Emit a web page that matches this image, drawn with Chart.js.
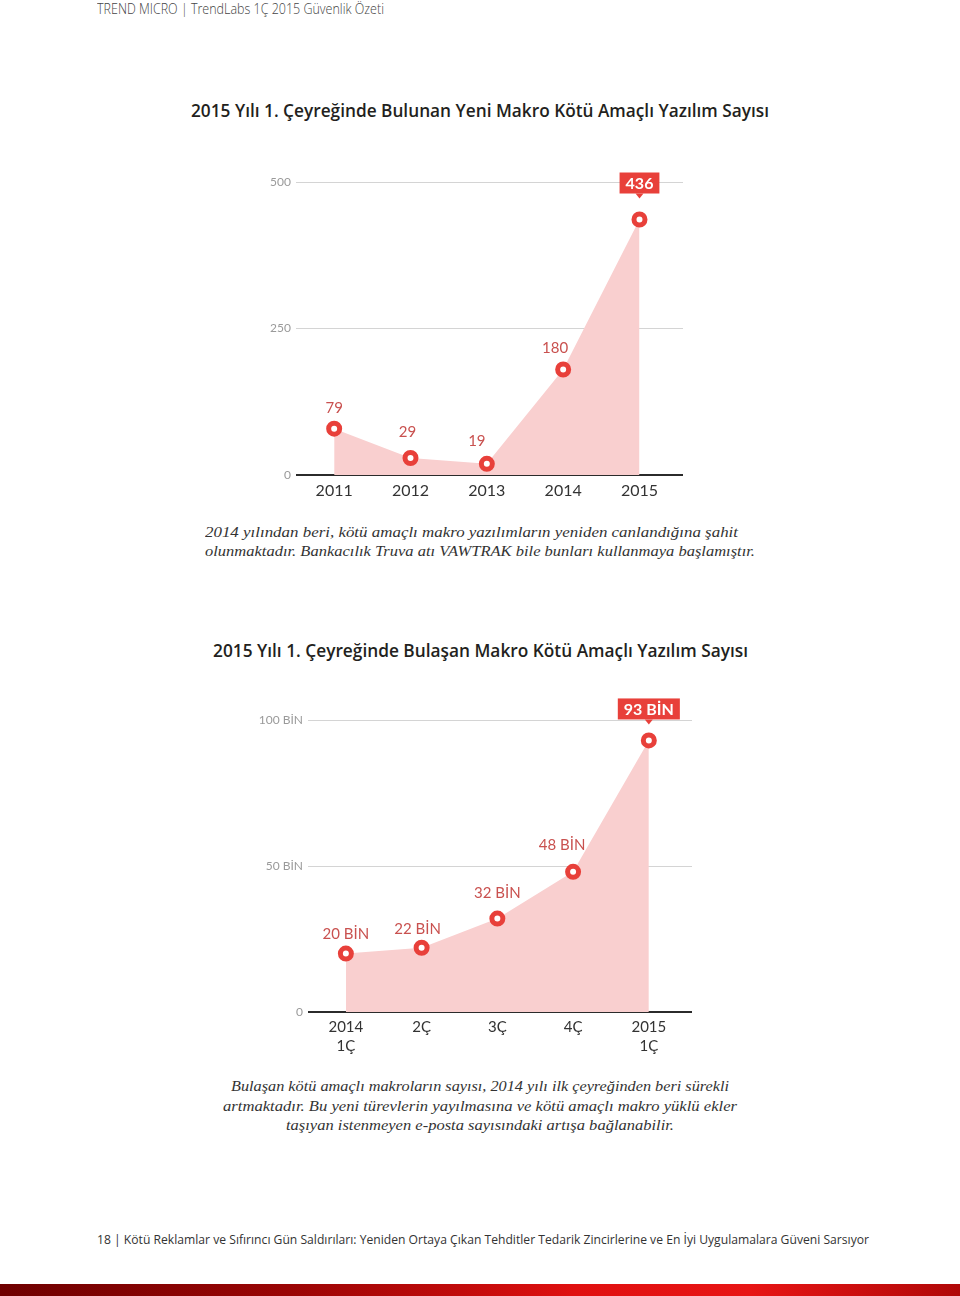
<!DOCTYPE html>
<html><head><meta charset="utf-8">
<script src="https://cdn.jsdelivr.net/npm/chart.js@4.4.1/dist/chart.umd.min.js"></script>
<style>
html,body{margin:0;padding:0;background:#fff;}
body{width:960px;height:1296px;position:relative;overflow:hidden;font-family:"Open Sans",sans-serif;}
.t{position:absolute;white-space:nowrap;line-height:1;transform-origin:0 50%;display:inline-block;}
.hdr{font-size:14px;font-weight:300;color:#444;}
.ttl{font-size:18px;font-weight:600;color:#231f20;}
.cap{font-family:"Liberation Serif",serif;font-style:italic;font-size:15px;color:#333;}
.ftr{font-size:13px;color:#333;}
.box{position:absolute;}
#bar{position:absolute;left:0;top:1284px;width:960px;height:12px;background:linear-gradient(90deg,#6e0000 0%,#9a0505 30%,#c10b0b 48%,#e01010 60%,#e81515 78%,#b00808 100%);}
</style></head><body>
<div class="t hdr" data-x="97" data-w="287" style="top:2px">TREND MICRO | TrendLabs 1Ç 2015 Güvenlik Özeti</div>
<div class="t ttl" data-x="191" data-w="578" style="top:101px">2015 Yılı 1. Çeyreğinde Bulunan Yeni Makro Kötü Amaçlı Yazılım Sayısı</div>
<div class="box" style="left:240px;top:160px;width:460px;height:360px"><canvas id="c1"></canvas></div>
<div class="t cap" data-x="205" data-w="533" style="top:525px">2014 yılından beri, kötü amaçlı makro yazılımların yeniden canlandığına şahit</div>
<div class="t cap" data-x="205" data-w="550" style="top:544px">olunmaktadır. Bankacılık Truva atı VAWTRAK bile bunları kullanmaya başlamıştır.</div>
<div class="t ttl" data-x="213" data-w="535" style="top:641px">2015 Yılı 1. Çeyreğinde Bulaşan Makro Kötü Amaçlı Yazılım Sayısı</div>
<div class="box" style="left:240px;top:690px;width:470px;height:380px"><canvas id="c2"></canvas></div>
<div class="t cap" data-x="231" data-w="498" style="top:1079px">Bulaşan kötü amaçlı makroların sayısı, 2014 yılı ilk çeyreğinden beri sürekli</div>
<div class="t cap" data-x="223" data-w="514" style="top:1099px">artmaktadır. Bu yeni türevlerin yayılmasına ve kötü amaçlı makro yüklü ekler</div>
<div class="t cap" data-x="286" data-w="388" style="top:1118px">taşıyan istenmeyen e-posta sayısındaki artışa bağlanabilir.</div>
<div class="t ftr" data-x="97" data-w="772" style="top:1233px">18 | Kötü Reklamlar ve Sıfırıncı Gün Saldırıları: Yeniden Ortaya Çıkan Tehditler Tedarik Zincirlerine ve En İyi Uygulamalara Güveni Sarsıyor</div>
<div id="bar"></div>
<script>
// ---- data ----
const years = ["2011", "2012", "2013", "2014", "2015"];
const newMacros = [79, 29, 19, 180, 436];
const yTicks1 = [0, 250, 500];

const quarters = [["2014", "1Ç"], ["2Ç"], ["3Ç"], ["4Ç"], ["2015", "1Ç"]];
const infections = [20, 22, 32, 48, 93];   // thousands (BİN)
const yTicks2 = [0, 50, 100];

// ---- text fitting ----
function fitTexts(){
  document.querySelectorAll('.t').forEach(el=>{
    el.style.left = el.dataset.x + 'px';
    el.style.transform = 'none';
    const w = el.getBoundingClientRect().width;
    const target = parseFloat(el.dataset.w);
    el.style.transform = 'scaleX(' + (target / w) + ')';
  });
}

const RED = '#e8403a';
const LABEL = '#c9514f';
const FILL = '#f9cfcf';

const labelPlugin = {
  id: 'valLabels',
  afterDatasetsDraw(chart, args, opts) {
    const ctx = chart.ctx;
    const meta = chart.getDatasetMeta(0);
    const data = chart.data.datasets[0].data;
    ctx.save();
    meta.data.forEach((pt, i) => {
      const txt = opts.format(data[i].y);
      const off = opts.offsets[i];
      if (i === data.length - 1) {
        ctx.font = 'bold 16px Lato, "Open Sans", sans-serif';
        const tw = ctx.measureText(txt).width;
        const bw = tw + 12, bh = 21;
        const cx = pt.x, bottom = pt.y - opts.boxGap;
        ctx.fillStyle = RED;
        ctx.fillRect(cx - bw / 2, bottom - bh, bw, bh);
        ctx.beginPath();
        ctx.moveTo(cx - 4, bottom); ctx.lineTo(cx + 4, bottom); ctx.lineTo(cx, bottom + 5); ctx.closePath();
        ctx.fill();
        ctx.fillStyle = '#fff';
        ctx.textAlign = 'center'; ctx.textBaseline = 'middle';
        ctx.fillText(txt, cx, bottom - bh / 2 + 1);
      } else {
        ctx.font = '15px Lato, "Open Sans", sans-serif';
        ctx.fillStyle = LABEL;
        ctx.textAlign = 'center'; ctx.textBaseline = 'middle';
        ctx.fillText(txt, pt.x + off[0], pt.y + off[1]);
      }
    });
    ctx.restore();
  }
};

function makeChart(id, labels, values, yTicks, yFmt, valFmt, offsets, boxGap, pad, yW, xH, xFont, xPad) {
  return new Chart(document.getElementById(id), {
    type: 'line',
    data: {
      labels: labels,
      datasets: [{
        data: values.map((v, i) => ({x: i, y: v})),
        fill: 'origin',
        backgroundColor: FILL,
        borderColor: 'rgba(0,0,0,0)',
        borderWidth: 0,
        tension: 0,
        pointRadius: 5.5,
        pointHoverRadius: 5.5,
        pointBorderWidth: 5,
        pointBackgroundColor: '#fff',
        pointBorderColor: RED,
        clip: false
      }]
    },
    options: {
      responsive: true, maintainAspectRatio: false, animation: false,
      layout: {padding: pad},
      plugins: {
        legend: {display: false}, tooltip: {enabled: false},
        valLabels: {format: valFmt, offsets: offsets, boxGap: boxGap}
      },
      scales: {
        x: {
          type: 'linear', min: -0.5, max: labels.length - 1 + 0.57,
          afterBuildTicks: s => { s.ticks = labels.map((l, i) => ({value: i})); },
          afterFit: s => { s.height = xH; },
          grid: {display: false, drawTicks: false}, border: {display: false},
          ticks: {
            autoSkip: false, maxRotation: 0, padding: xPad,
            color: '#333', font: xFont,
            callback: (v) => labels[v]
          }
        },
        y: {
          min: 0, max: yTicks[yTicks.length - 1],
          afterBuildTicks: s => { s.ticks = yTicks.map(v => ({value: v})); },
          afterFit: s => { s.width = yW; },
          border: {display: false},
          grid: {
            drawTicks: false,
            color: c => c.tick && c.tick.value === 0 ? '#2b2b2b' : '#d4d4d4',
            lineWidth: c => c.tick && c.tick.value === 0 ? 2 : 1
          },
          ticks: {padding: 5, color: '#9a9a9a', font: {size: 12, family: 'Lato, "Open Sans", sans-serif'}, callback: yFmt}
        }
      }
    },
    plugins: [labelPlugin]
  });
}

function draw(){
  fitTexts();
  makeChart('c1', years, newMacros, yTicks1,
    v => String(v), v => String(v),
    [[0, -21], [-3, -26], [-10, -23], [-8, -21], [0, 0]], 26,
    {left: 0, right: 17, top: 22, bottom: 0}, 56, 45,
    {size: 16, family: 'Lato, "Open Sans", sans-serif'}, 6);
  makeChart('c2', quarters, infections, yTicks2,
    v => v === 0 ? '0' : v + ' BİN', v => v + ' BİN',
    [[0, -19], [-4, -19], [0, -25], [-11, -27], [0, 0]], 21,
    {left: 0, right: 18, top: 30, bottom: 0}, 68, 58,
    {size: 15, family: 'Lato, "Open Sans", sans-serif', lineHeight: 1.25}, 6);
}
if (document.fonts && document.fonts.ready) document.fonts.ready.then(draw); else draw();
</script>
</body></html>
